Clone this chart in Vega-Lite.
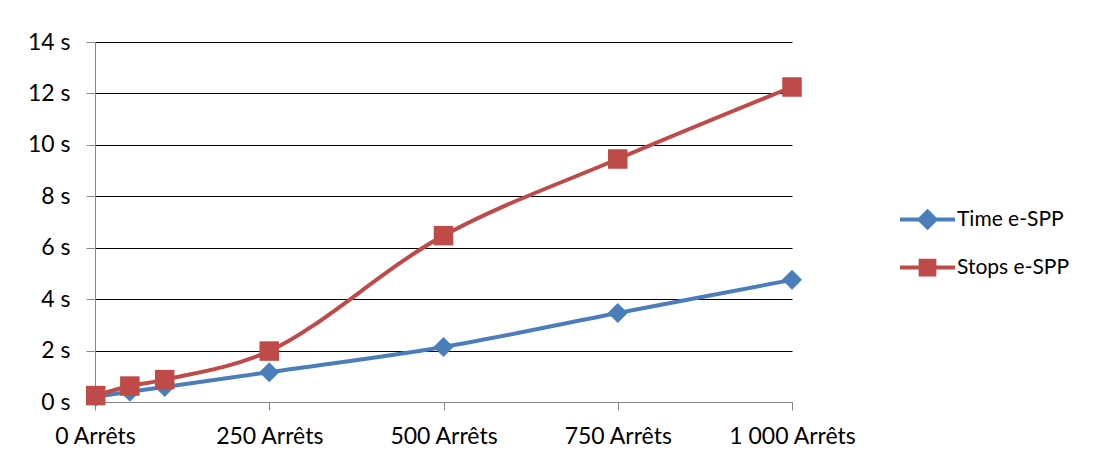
{
  "$schema": "https://vega.github.io/schema/vega-lite/v6.json",
  "width": 697,
  "height": 360,
  "autosize": {"type": "none"},
  "padding": {"left": 95, "top": 42, "right": 311, "bottom": 62},
  "background": "white",
  "config": {
    "view": {"stroke": null},
    "font": "Lato",
    "axis": {"labelFont": "Lato", "labelFontSize": 23, "labelColor": "black"}
  },
  "data": {
    "values": [
      {"stops": 1, "series": "Time e-SPP", "t": 0.2},
      {"stops": 50, "series": "Time e-SPP", "t": 0.4},
      {"stops": 100, "series": "Time e-SPP", "t": 0.58},
      {"stops": 250, "series": "Time e-SPP", "t": 1.16},
      {"stops": 500, "series": "Time e-SPP", "t": 2.14},
      {"stops": 750, "series": "Time e-SPP", "t": 3.46},
      {"stops": 1000, "series": "Time e-SPP", "t": 4.75},
      {"stops": 1, "series": "Stops e-SPP", "t": 0.25},
      {"stops": 50, "series": "Stops e-SPP", "t": 0.62},
      {"stops": 100, "series": "Stops e-SPP", "t": 0.87},
      {"stops": 250, "series": "Stops e-SPP", "t": 1.98},
      {"stops": 500, "series": "Stops e-SPP", "t": 6.47},
      {"stops": 750, "series": "Stops e-SPP", "t": 9.45},
      {"stops": 1000, "series": "Stops e-SPP", "t": 12.25}
    ]
  },
  "encoding": {
    "x": {
      "field": "stops", "type": "quantitative",
      "scale": {"domain": [0, 1000], "nice": false, "zero": false},
      "axis": {
        "values": [0, 250, 500, 750, 1000],
        "title": null, "grid": false,
        "labelOverlap": false, "labelFlush": false, "labelBound": false,
        "domainColor": "#868686", "tickColor": "#868686", "tickSize": 8,
        "labelPadding": 15,
        "labelExpr": "datum.value == 1000 ? '1 000 Arrêts' : datum.value + ' Arrêts'"
      }
    },
    "y": {
      "field": "t", "type": "quantitative",
      "scale": {"domain": [0, 14], "nice": false},
      "axis": {
        "values": [0, 2, 4, 6, 8, 10, 12, 14],
        "title": null, "grid": true, "gridColor": "black", "gridOpacity": 1, "gridWidth": 1,
        "labelOverlap": false, "labelFlush": false,
        "domainColor": "#868686", "tickColor": "#868686", "tickSize": 9,
        "labelPadding": 16,
        "labelExpr": "datum.value + ' s'"
      }
    },
    "color": {
      "field": "series", "type": "nominal",
      "scale": {"domain": ["Time e-SPP", "Stops e-SPP"], "range": ["#4a7ebb", "#be4b48"]},
      "legend": {
        "title": null, "orient": "none", "legendX": 803, "legendY": 148,
        "labelFont": "Lato", "labelFontSize": 21, "labelColor": "black",
        "symbolSize": 3025, "symbolStrokeWidth": 4, "rowPadding": 2, "labelOffset": 0,
        "encode": {
          "symbols": {
            "update": {
              "shape": {"signal": "datum.value === 'Time e-SPP' ? 'M-1,0L-0.3,0M0.3,0L1,0M0,-0.29L0.29,0L0,0.29L-0.29,0Z' : 'M-1,0L-0.25,0M0.25,0L1,0M-0.25,-0.25L0.25,-0.25L0.25,0.25L-0.25,0.25Z'"},
              "fill": {"signal": "datum.value === 'Time e-SPP' ? '#4a7ebb' : '#be4b48'"},
              "stroke": {"signal": "datum.value === 'Time e-SPP' ? '#4a7ebb' : '#be4b48'"},
              "fillOpacity": {"value": 1},
              "strokeWidth": {"value": 4}
            }
          }
        }
      }
    }
  },
  "layer": [
    {"mark": {"type": "line", "strokeWidth": 4, "interpolate": "catmull-rom"}},
    {
      "transform": [{"filter": "datum.series === 'Time e-SPP'"}],
      "mark": {"type": "point", "shape": "diamond", "filled": true, "opacity": 1, "size": 400}
    },
    {
      "transform": [{"filter": "datum.series === 'Stops e-SPP'"}],
      "mark": {"type": "point", "shape": "square", "filled": true, "opacity": 1, "size": 380}
    }
  ]
}
